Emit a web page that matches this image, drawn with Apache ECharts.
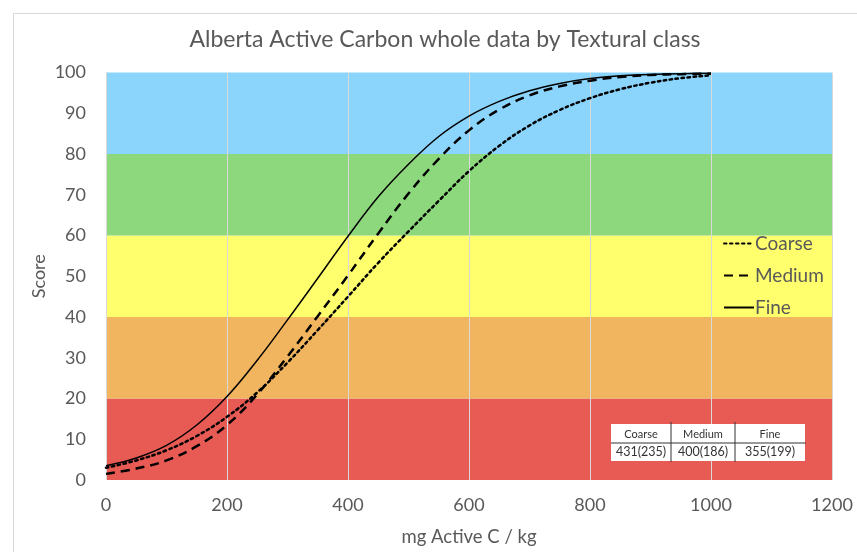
<!DOCTYPE html>
<html>
<head>
<meta charset="utf-8">
<script src="https://cdn.jsdelivr.net/npm/echarts@6/dist/echarts.min.js"></script>
<style>
html,body{margin:0;padding:0;background:#fff;overflow:hidden;}
#chart{width:857px;height:552px;}
</style>
</head>
<body>
<div id="chart"></div>
<script>
const xValues = [0,50,100,150,200,250,300,350,400,450,500,550,600,650,700,750,800,850,900,950,1000];
const coarse = [3.0,4.8,7.3,10.8,15.5,21.5,28.8,36.8,45.0,53.3,61.0,68.5,75.8,82.0,87.0,90.8,93.7,95.9,97.5,98.6,99.3];
const medium = [1.5,2.8,4.8,8.3,13.5,21.0,30.3,40.2,50.2,60.5,70.3,78.8,85.8,90.9,94.4,96.6,98.0,98.9,99.4,99.6,99.7];
const fine   = [3.5,5.4,8.5,13.5,20.5,29.4,39.3,49.5,59.8,69.5,77.5,84.3,89.3,92.9,95.5,97.3,98.5,99.2,99.5,99.7,99.8];
const seriesNames = ['Coarse','Medium','Fine'];
const bandEdges = [0,20,40,60,80,100];
const bandColors = ['#E85B54','#F0B55E','#FFFF6D','#8DD77C','#8BD4FB'];
const tableHeaders = ['Coarse','Medium','Fine'];
const tableValues = ['431(235)','400(186)','355(199)'];

const FONT = 'Lato, "Open Sans", sans-serif';
const TXT = '#595959';

function pairs(ys){ return xValues.map((x,i)=>[x,ys[i]]); }

const bands = bandColors.map((c,i)=>[
  {yAxis: bandEdges[i], xAxis: 0, itemStyle:{color:c}},
  {yAxis: bandEdges[i+1], xAxis: 1200}
]);

const chart = echarts.init(document.getElementById('chart'), null, {renderer:'canvas'});

// table graphic
const tX = [611, 671, 735, 805];
const tY = [424, 443, 461];
const els = [];
els.push({type:'rect', shape:{x:tX[0], y:tY[0], width:tX[3]-tX[0], height:tY[2]-tY[0]}, style:{fill:'#fff', stroke:null}, z:100});
els.push({type:'line', shape:{x1:tX[0], y1:tY[1], x2:tX[3]+1, y2:tY[1]}, style:{stroke:'#333', lineWidth:1}, z:101});
[tX[1], tX[2]].forEach(x=>els.push({type:'line', shape:{x1:x, y1:tY[0]-2, x2:x, y2:tY[2]+1}, style:{stroke:'#333', lineWidth:1}, z:101}));
for (let i=0;i<3;i++){
  const cx = (tX[i]+tX[i+1])/2;
  els.push({type:'text', x:cx, y:(tY[0]+tY[1])/2+1, style:{text:tableHeaders[i], fill:'#333', font:'11px '+FONT, align:'center', verticalAlign:'middle'}, z:102});
  els.push({type:'text', x:cx, y:(tY[1]+tY[2])/2, style:{text:tableValues[i], fill:'#333', font:'12.5px '+FONT, align:'center', verticalAlign:'middle'}, z:102});
}
// outer chart border
els.push({type:'polyline', shape:{points:[[13.5,560],[13.5,13.5],[870,13.5]]}, style:{stroke:'#d9d9d9', lineWidth:1, fill:null}, z:0});

chart.setOption({
  backgroundColor:'#fff',
  animation:false,
  title:{
    text:'Alberta Active Carbon whole data by Textural class',
    left:440, top:23, textAlign:'center',
    textStyle:{fontFamily:FONT, fontSize:23, fontWeight:'normal', color:TXT}
  },
  legend:{
    orient:'vertical', left:718, top:229, itemWidth:30, itemHeight:18, itemGap:13,
    data:seriesNames,
    itemStyle:{opacity:0},
    textStyle:{fontFamily:FONT, fontSize:19, color:TXT, padding:[0,0,0,-4]}
  },
  grid:{left:106, right:25, top:72.5, bottom:72, containLabel:false, outerBoundsMode:'none'},
  xAxis:{
    type:'value', min:0, max:1200, interval:200,
    name:'mg Active C / kg', nameLocation:'middle', nameGap:48,
    nameTextStyle:{fontFamily:FONT, fontSize:18.5, color:TXT},
    axisLine:{show:false}, axisTick:{show:false},
    axisLabel:{fontFamily:FONT, fontSize:18, color:TXT, margin:16, formatter:v=>String(v)},
    splitLine:{show:true, lineStyle:{color:'#d9d9d9', width:1}}, z:5
  },
  yAxis:{
    type:'value', min:0, max:100, interval:10,
    name:'Score', nameLocation:'middle', nameGap:58, nameMoveOverlap:false,
    nameTextStyle:{fontFamily:FONT, fontSize:18, color:TXT},
    axisLine:{show:false}, axisTick:{show:false},
    axisLabel:{fontFamily:FONT, fontSize:18, color:TXT, margin:20},
    splitLine:{show:false}
  },
  series:[
    {type:'line', name:'_bands', data:[], z:-1, silent:true,
     markArea:{silent:true, data:bands, label:{show:false}}},
    {type:'line', name:'Coarse', data:pairs(coarse), smooth:0.4, symbol:'none', z:10,
     lineStyle:{color:'#000', width:2.5, type:[2.5,3.5], cap:'round'}, itemStyle:{color:'#000'}},
    {type:'line', name:'Medium', data:pairs(medium), smooth:0.4, symbol:'none', z:10,
     lineStyle:{color:'#000', width:2.5, type:[9,6]}, itemStyle:{color:'#000'}},
    {type:'line', name:'Fine', data:pairs(fine), smooth:0.4, symbol:'none', z:10,
     lineStyle:{color:'#000', width:1.5, type:'solid'}, itemStyle:{color:'#000'}}
  ],
  graphic:els
});
</script>
</body>
</html>
